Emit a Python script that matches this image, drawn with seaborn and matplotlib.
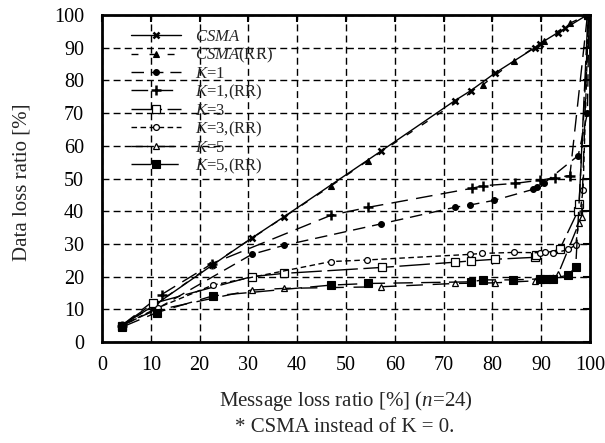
import matplotlib
matplotlib.use("Agg")
import matplotlib.pyplot as plt
import seaborn as sns
import pandas as pd

# Message loss ratio (x) vs. data loss ratio (y), in percent
csma_x = [4, 11, 22.6, 30.7, 37.3, 57.2, 72.3, 75.6, 80.5, 88.7, 89.8, 93.4, 95.0, 99.4]
csma_y = [5, 11.5, 23.5, 31.8, 38.3, 58.4, 73.8, 76.9, 82.2, 90.0, 91.3, 94.6, 96.0, 100]

csma_rr_x = [4, 10.5, 22.7, 46.9, 54.5, 78.0, 84.4, 90.5, 95.9, 99.4]
csma_rr_y = [5, 11, 23.8, 47.7, 55.5, 78.6, 85.9, 92.0, 97.5, 100]

k1_x = [4, 10.5, 30.7, 37.4, 57.1, 72.3, 75.4, 80.3, 88.4, 89.1, 90.5, 97.6, 99.5, 99.8]
k1_y = [5, 9.5, 26.8, 29.6, 36.1, 41.2, 41.9, 43.3, 46.7, 47.5, 48.5, 57.0, 70, 100]

k1_rr_x = [4, 12.2, 22.6, 47.0, 54.6, 75.8, 78.1, 84.6, 89.8, 92.8, 95.9, 99.5]
k1_rr_y = [5, 14.5, 24.0, 38.8, 41.2, 47.0, 47.8, 48.5, 49.5, 50.2, 50.9, 100]

k3_x = [4, 10.5, 30.7, 37.4, 57.3, 72.3, 75.6, 80.5, 88.7, 89.0, 93.8, 97.6, 97.8, 99.6]
k3_y = [5, 11.8, 20.0, 21.0, 22.8, 24.4, 24.8, 25.3, 25.9, 26.6, 28.3, 40.2, 42.2, 100]

k3_rr_x = [4, 11.5, 22.7, 46.9, 54.4, 75.4, 77.9, 84.5, 89.8, 90.8, 92.5, 95.6, 97.1, 98.6, 99.7]
k3_rr_y = [5, 10.5, 17.4, 24.6, 25.1, 26.8, 27.1, 27.4, 27.3, 27.4, 27.1, 28.3, 29.7, 46.5, 100]

k5_x = [4, 10.5, 30.7, 37.4, 57.2, 72.3, 80.5, 88.7, 93.5, 97.8, 98.3, 99.7]
k5_y = [5, 9.5, 15.9, 16.4, 16.9, 17.9, 18.1, 18.7, 20.8, 36.5, 38.3, 100]

k5_rr_x = [4, 11.2, 22.7, 46.9, 54.6, 75.6, 78.1, 84.3, 89.8, 91.0, 92.5, 95.6, 97.1, 99.8]
k5_rr_y = [4.5, 9, 14.1, 17.4, 17.9, 18.4, 19.0, 19.0, 19.3, 19.4, 19.4, 20.5, 23.0, 100]

series_labels = [r"$\mathit{CSMA}$", r"$\mathit{CSMA}$(RR)", r"$\mathit{K}$=1",
                 r"$\mathit{K}$=1,(RR)", r"$\mathit{K}$=3", r"$\mathit{K}$=3,(RR)",
                 r"$\mathit{K}$=5", r"$\mathit{K}$=5,(RR)"]
series_data = [(csma_x, csma_y), (csma_rr_x, csma_rr_y), (k1_x, k1_y), (k1_rr_x, k1_rr_y),
               (k3_x, k3_y), (k3_rr_x, k3_rr_y), (k5_x, k5_y), (k5_rr_x, k5_rr_y)]

# line / marker styling per series
styles = [
    dict(marker="x", ms=5.0, mew=1.8, mfc="black", ls="-"),
    dict(marker="^", ms=5.0, mew=0.8, mfc="black", ls=(0, (5, 8))),
    dict(marker="o", ms=4.2, mew=0.8, mfc="black", ls=(0, (9, 5))),
    dict(marker="+", ms=7.0, mew=1.8, mfc="black", ls=(0, (12, 6))),
    dict(marker="s", ms=5.5, mew=0.9, mfc="white", ls=(0, (22, 4))),
    dict(marker="o", ms=4.2, mew=0.9, mfc="white", ls=(0, (4, 2.5))),
    dict(marker="^", ms=4.5, mew=0.9, mfc="white", ls=(0, (12, 7))),
    dict(marker="s", ms=5.5, mew=0.8, mfc="black", ls=(0, (14, 6))),
]

sns.set_style("white")
plt.rcParams["font.family"] = ["Liberation Serif", "DejaVu Serif"]
plt.rcParams["mathtext.fontset"] = "custom"
plt.rcParams["mathtext.rm"] = "Liberation Serif"
plt.rcParams["mathtext.it"] = "Liberation Serif:italic"

fig = plt.figure(figsize=(6.05, 4.43), dpi=100)
ax = fig.add_axes([0.1686, 0.228, 0.8064, 0.738])

for (xs, ys), lab, st in zip(series_data, series_labels, styles):
    df = pd.DataFrame({"x": xs, "y": ys})
    sns.lineplot(data=df, x="x", y="y", ax=ax, sort=False, estimator=None,
                 color="black", lw=1.0, label=lab, marker=st["marker"],
                 markersize=st["ms"], markeredgewidth=st["mew"],
                 markerfacecolor=st["mfc"], markeredgecolor="black",
                 linestyle=st["ls"])

ax.set_xlim(0, 100)
ax.set_ylim(0, 100)
ax.set_xticks(range(0, 101, 10))
ax.set_yticks(range(0, 101, 10))
ax.grid(True, color="black", ls=(0, (5, 3)), lw=1.0)
ax.tick_params(direction="in", length=5, width=1.5, top=True, right=True,
               labelsize=14.5, colors="black")
ax.tick_params(axis="y", pad=13)
ax.tick_params(axis="x", pad=10)
for sp in ax.spines.values():
    sp.set_linewidth(2)
    sp.set_color("black")

ax.set_xlabel(r"Message loss ratio [%] ($\mathit{n}$=24)", fontsize=15, labelpad=10)
ax.set_ylabel("Data loss ratio [%]", fontsize=15)
ax.yaxis.set_label_coords(-0.145, 0.49)

leg = ax.legend(loc="upper left", bbox_to_anchor=(0.045, 0.978), frameon=False,
                fontsize=12, handlelength=3.05, labelspacing=0.05, numpoints=1,
                handletextpad=0.8, borderaxespad=0)

fig.text(0.57, 0.034, "* CSMA instead of K = 0.", ha="center", va="center", fontsize=15)

fig.savefig("out.png", dpi=100)
